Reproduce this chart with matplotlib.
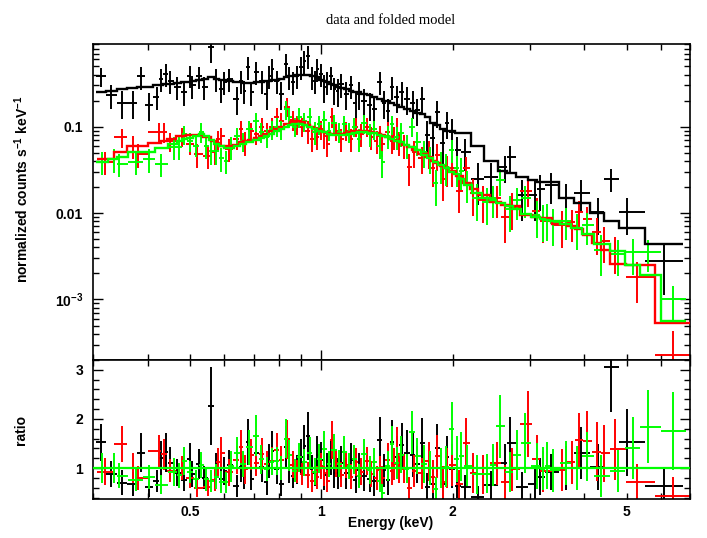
import numpy as np
import matplotlib
matplotlib.use("Agg")
import matplotlib.pyplot as plt
from matplotlib.ticker import FixedLocator, FixedFormatter, NullFormatter

# ---------------- data (energy keV, normalized counts, relative error, model) -------------
black_E = [0.313, 0.33, 0.35, 0.37, 0.387, 0.404, 0.42, 0.43, 0.44, 0.45, 0.468, 0.485, 0.5, 0.506,
           0.525, 0.54, 0.56, 0.575, 0.59, 0.6, 0.615, 0.64, 0.655, 0.666, 0.68, 0.69, 0.71, 0.73,
           0.75, 0.76, 0.77, 0.79, 0.81, 0.83, 0.845, 0.86, 0.88, 0.9, 0.915, 0.93, 0.95, 0.965,
           0.98, 1.0, 1.016, 1.03, 1.055, 1.07, 1.09, 1.11, 1.14, 1.17, 1.2, 1.22, 1.25, 1.29,
           1.32, 1.36, 1.39, 1.42, 1.45, 1.49, 1.53, 1.57, 1.62, 1.66, 1.7, 1.75, 1.8, 1.84, 1.9,
           1.94, 1.99, 2.05, 2.13, 2.28, 2.45, 2.63, 2.7, 2.88, 3.08, 3.16, 3.36, 3.64, 3.94, 4.3,
           4.6, 5.0, 6.1]
black_val = [0.38, 0.23, 0.19, 0.19, 0.38, 0.18, 0.22, 0.36, 0.41, 0.34, 0.29, 0.25, 0.39, 0.30,
             0.38, 0.29, 0.84, 0.36, 0.27, 0.33, 0.36, 0.21, 0.34, 0.26, 0.49, 0.25, 0.43, 0.34,
             0.24, 0.39, 0.47, 0.34, 0.24, 0.53, 0.38, 0.33, 0.39, 0.49, 0.58, 0.66, 0.38, 0.34,
             0.47, 0.41, 0.29, 0.33, 0.38, 0.27, 0.26, 0.31, 0.24, 0.30, 0.19, 0.24, 0.20, 0.18,
             0.16, 0.33, 0.19, 0.15, 0.29, 0.22, 0.25, 0.21, 0.19, 0.156, 0.21, 0.08, 0.074, 0.148,
             0.065, 0.11, 0.087, 0.054, 0.051, 0.025, 0.026, 0.034, 0.044, 0.016, 0.016, 0.019,
             0.021, 0.015, 0.017, 0.0102, 0.025, 0.0102, 0.0028]
black_rel = [0.25, 0.3, 0.35, 0.35, 0.3, 0.35, 0.3, 0.3, 0.3, 0.3, 0.3, 0.3, 0.28, 0.3,
             0.28, 0.3, 0.35, 0.3, 0.3, 0.3, 0.3, 0.35, 0.3, 0.3, 0.3, 0.3, 0.3, 0.3,
             0.35, 0.3, 0.3, 0.3, 0.35, 0.3, 0.3, 0.3, 0.3, 0.3, 0.3, 0.3, 0.3, 0.3,
             0.3, 0.3, 0.35, 0.3, 0.3, 0.35, 0.35, 0.3, 0.35, 0.3, 0.35, 0.35, 0.35, 0.35,
             0.4, 0.3, 0.35, 0.4, 0.3, 0.35, 0.3, 0.35, 0.35, 0.35, 0.35, 0.45, 0.45, 0.35,
             0.45, 0.35, 0.4, 0.4, 0.4, 0.5, 0.45, 0.35, 0.35, 0.5, 0.5, 0.45,
             0.4, 0.45, 0.4, 0.45, 0.3, 0.45, 0.6]
black_model = [0.25, 0.26, 0.27, 0.28, 0.29, 0.29, 0.30, 0.30, 0.31, 0.31, 0.32, 0.33, 0.33, 0.34,
               0.35, 0.36, 0.37, 0.36, 0.35, 0.35, 0.34, 0.33, 0.33, 0.32, 0.32, 0.32, 0.33, 0.33,
               0.34, 0.34, 0.35, 0.35, 0.36, 0.37, 0.38, 0.39, 0.40, 0.40, 0.40, 0.40, 0.39, 0.38,
               0.37, 0.35, 0.34, 0.33, 0.31, 0.30, 0.29, 0.28, 0.27, 0.26, 0.25, 0.25, 0.24, 0.23,
               0.22, 0.21, 0.20, 0.20, 0.19, 0.18, 0.17, 0.16, 0.15, 0.145, 0.14, 0.13, 0.11, 0.105,
               0.095, 0.09, 0.088, 0.085, 0.084, 0.06, 0.04, 0.031, 0.029, 0.026, 0.024, 0.023,
               0.023, 0.015, 0.013, 0.010, 0.0082, 0.0067, 0.0044]

red_E = [0.32, 0.35, 0.37, 0.38, 0.425, 0.436, 0.45, 0.48, 0.5, 0.52, 0.55, 0.57, 0.58, 0.59,
         0.615, 0.64, 0.655, 0.67, 0.69, 0.71, 0.73, 0.75, 0.77, 0.79, 0.81, 0.836, 0.86, 0.88,
         0.905, 0.93, 0.95, 0.975, 1.0, 1.016, 1.03, 1.06, 1.08, 1.11, 1.14, 1.17, 1.2, 1.23,
         1.27, 1.3, 1.34, 1.36, 1.38, 1.42, 1.45, 1.47, 1.49, 1.51, 1.55, 1.59, 1.63, 1.7, 1.76,
         1.8, 1.84, 1.9, 1.94, 1.99, 2.07, 2.15, 2.22, 2.34, 2.52, 2.63, 2.74, 2.97, 3.11, 3.21,
         3.55, 3.74, 3.9, 4.05, 4.27, 4.45, 4.7, 5.27, 6.4]
red_val = [0.039, 0.076, 0.060, 0.048, 0.087, 0.087, 0.068, 0.078, 0.063, 0.048, 0.046, 0.051,
           0.072, 0.078, 0.055, 0.072, 0.094, 0.066, 0.089, 0.082, 0.10, 0.089, 0.10, 0.13, 0.116,
           0.17, 0.12, 0.107, 0.10, 0.09, 0.072, 0.076, 0.094, 0.078, 0.063, 0.13, 0.09, 0.072,
           0.09, 0.072, 0.10, 0.082, 0.10, 0.076, 0.068, 0.078, 0.063, 0.087, 0.068, 0.076, 0.10,
           0.066, 0.061, 0.034, 0.051, 0.043, 0.050, 0.033, 0.047, 0.025, 0.033, 0.033, 0.018,
           0.033, 0.017, 0.014, 0.0148, 0.0089, 0.0117, 0.018, 0.0107, 0.0082, 0.0072, 0.0078,
           0.0102, 0.0085, 0.006, 0.0048, 0.0036, 0.0018, 0.00023]
red_rel = [0.3, 0.25, 0.3, 0.3, 0.25, 0.25, 0.25, 0.25, 0.25, 0.3, 0.3, 0.3, 0.25, 0.25,
           0.3, 0.25, 0.25, 0.3, 0.25, 0.25, 0.25, 0.25, 0.25, 0.25, 0.25, 0.25, 0.25, 0.25,
           0.25, 0.3, 0.3, 0.3, 0.25, 0.3, 0.3, 0.25, 0.25, 0.3, 0.25, 0.3, 0.25, 0.3,
           0.25, 0.3, 0.3, 0.3, 0.3, 0.3, 0.3, 0.3, 0.25, 0.3, 0.3, 0.4, 0.35, 0.35, 0.35,
           0.4, 0.35, 0.45, 0.4, 0.4, 0.45, 0.35, 0.45, 0.45, 0.4, 0.5, 0.45, 0.35, 0.4, 0.45,
           0.45, 0.4, 0.35, 0.4, 0.45, 0.45, 0.45, 0.5, 0.9]
red_model = [0.042, 0.051, 0.06, 0.06, 0.065, 0.068, 0.072, 0.078, 0.08, 0.08, 0.075, 0.068,
             0.064, 0.06, 0.06, 0.062, 0.066, 0.068, 0.07, 0.074, 0.078, 0.082, 0.088, 0.095,
             0.10, 0.107, 0.112, 0.115, 0.113, 0.105, 0.098, 0.094, 0.09, 0.087, 0.085, 0.083,
             0.082, 0.083, 0.085, 0.087, 0.089, 0.089, 0.088, 0.087, 0.085, 0.082, 0.079, 0.075,
             0.072, 0.07, 0.068, 0.066, 0.062, 0.058, 0.054, 0.048, 0.044, 0.04, 0.038, 0.035,
             0.033, 0.031, 0.027, 0.022, 0.019, 0.016, 0.0135, 0.0125, 0.012, 0.0095, 0.009,
             0.0088, 0.0075, 0.007, 0.0065, 0.0055, 0.0045, 0.0037, 0.0026, 0.0025, 0.00054]

green_E = [0.315, 0.335, 0.345, 0.377, 0.404, 0.43, 0.46, 0.473, 0.485, 0.5, 0.517, 0.53, 0.545,
           0.56, 0.575, 0.59, 0.605, 0.62, 0.64, 0.66, 0.684, 0.71, 0.728, 0.75, 0.77, 0.79, 0.81,
           0.83, 0.845, 0.87, 0.89, 0.915, 0.94, 0.965, 0.99, 1.016, 1.04, 1.07, 1.1, 1.13, 1.16,
           1.19, 1.22, 1.25, 1.29, 1.32, 1.36, 1.38, 1.42, 1.45, 1.49, 1.52, 1.57, 1.61, 1.66,
           1.72, 1.77, 1.83, 1.88, 1.93, 1.99, 2.04, 2.09, 2.16, 2.27, 2.39, 2.47, 2.56, 2.7, 2.8,
           2.92, 3.11, 3.21, 3.28, 3.39, 3.64, 3.84, 4.05, 4.38, 4.77, 5.16, 5.6, 6.4]
green_val = [0.039, 0.042, 0.037, 0.039, 0.042, 0.037, 0.058, 0.058, 0.082, 0.068, 0.06, 0.087,
             0.06, 0.052, 0.052, 0.043, 0.040, 0.058, 0.078, 0.068, 0.094, 0.116, 0.087, 0.076,
             0.094, 0.10, 0.094, 0.16, 0.13, 0.10, 0.13, 0.116, 0.13, 0.087, 0.107, 0.12, 0.09,
             0.11, 0.087, 0.107, 0.087, 0.10, 0.072, 0.11, 0.082, 0.094, 0.06, 0.039, 0.078,
             0.107, 0.076, 0.084, 0.061, 0.10, 0.066, 0.051, 0.043, 0.022, 0.036, 0.034, 0.054,
             0.033, 0.031, 0.022, 0.0148, 0.0133, 0.0148, 0.024, 0.011, 0.014, 0.0148, 0.0094,
             0.0085, 0.0087, 0.0076, 0.0082, 0.0068, 0.0072, 0.0037, 0.0034, 0.0035, 0.0035, 0.0010]
green_rel = [0.3, 0.3, 0.3, 0.3, 0.3, 0.3, 0.3, 0.3, 0.25, 0.25, 0.25, 0.25, 0.3,
             0.3, 0.3, 0.3, 0.3, 0.3, 0.25, 0.25, 0.25, 0.25, 0.25, 0.25, 0.25, 0.25, 0.25,
             0.25, 0.25, 0.25, 0.25, 0.25, 0.25, 0.3, 0.25, 0.25, 0.25, 0.25, 0.25, 0.25, 0.25,
             0.25, 0.3, 0.25, 0.3, 0.25, 0.3, 0.35, 0.3, 0.25, 0.3, 0.3, 0.3, 0.25, 0.3,
             0.35, 0.35, 0.45, 0.4, 0.4, 0.3, 0.4, 0.4, 0.4, 0.45, 0.45, 0.4, 0.35, 0.45, 0.4,
             0.4, 0.45, 0.45, 0.45, 0.45, 0.4, 0.45, 0.4, 0.5, 0.45, 0.45, 0.4, 0.45]
green_model = [0.039, 0.042, 0.044, 0.051, 0.051, 0.056, 0.063, 0.068, 0.072, 0.074, 0.078, 0.082,
               0.078, 0.07, 0.063, 0.06, 0.056, 0.056, 0.06, 0.063, 0.066, 0.07, 0.074, 0.078,
               0.083, 0.088, 0.094, 0.10, 0.103, 0.106, 0.107, 0.104, 0.099, 0.094, 0.09, 0.086,
               0.083, 0.081, 0.08, 0.081, 0.083, 0.085, 0.086, 0.086, 0.085, 0.084, 0.081, 0.078,
               0.075, 0.072, 0.069, 0.066, 0.062, 0.058, 0.053, 0.047, 0.043, 0.039, 0.036, 0.033,
               0.03, 0.028, 0.025, 0.021, 0.017, 0.015, 0.014, 0.013, 0.012, 0.011, 0.0098, 0.009,
               0.0086, 0.0083, 0.008, 0.0074, 0.0068, 0.0058, 0.0044, 0.0036, 0.0025, 0.0019, 0.00057]

colors = ["#000000", "#ff0000", "#00ff00"]
xlabels = ["0.5", "1", "2", "5"]

plt.rcParams["mathtext.fontset"] = "custom"
plt.rcParams["mathtext.rm"] = "Liberation Sans:bold"
plt.rcParams["mathtext.bf"] = "Liberation Sans:bold"
plt.rcParams["mathtext.default"] = "rm"

# ---------------- figure ----------------
fig = plt.figure(figsize=(7.07, 5.38), dpi=100)
ax1 = fig.add_axes([0.1315, 0.331, 0.845, 0.587])
ax2 = fig.add_axes([0.1315, 0.0725, 0.845, 0.2585], sharex=ax1)


def bin_edges(E):
    E = np.asarray(E, float)
    mids = np.sqrt(E[1:] * E[:-1])
    lo = np.concatenate([[E[0] ** 2 / mids[0]], mids])
    hi = np.concatenate([mids, [E[-1] ** 2 / mids[-1]]])
    return lo, hi


sets = [(black_E, black_val, black_rel, black_model),
        (red_E, red_val, red_rel, red_model),
        (green_E, green_val, green_rel, green_model)]

for (E, v, rel, m), c in zip(sets, colors):
    E = np.asarray(E); v = np.asarray(v); rel = np.asarray(rel); m = np.asarray(m)
    lo, hi = bin_edges(E)
    xerr = np.vstack([E - lo, hi - E])
    ax1.errorbar(E, v, xerr=xerr, yerr=rel * v, fmt="none", ecolor=c, elinewidth=1.4,
                 capsize=0, zorder=2)
    edges = np.concatenate([lo, [hi[-1]]])
    ax1.stairs(m, edges, baseline=None, color=c, lw=1.7, zorder=3)
    r = v / m
    ax2.errorbar(E, r, xerr=xerr, yerr=rel * r, fmt="none", ecolor=c, elinewidth=1.4,
                 capsize=0, zorder=2)

ax2.axhline(1.0, color="#00ff00", lw=1.6, zorder=4)

# ---------------- axes styling ----------------
ax1.set_xscale("log")
ax1.set_yscale("log")
ax1.set_xlim(0.3, 7.0)
ax1.set_ylim(2e-4, 0.9)
ax2.set_ylim(0.37, 3.2)

tick_font = dict(family="Liberation Sans", weight="bold", size=10)

for ax in (ax1, ax2):
    for sp in ax.spines.values():
        sp.set_linewidth(1.2)
    ax.tick_params(which="both", direction="in", top=True, right=True, width=1.0)
    ax.tick_params(which="major", length=7)
    ax.tick_params(which="minor", length=4)
    ax.xaxis.set_major_locator(FixedLocator([1.0]))
    ax.xaxis.set_minor_locator(FixedLocator([0.3, 0.4, 0.5, 0.6, 0.7, 0.8, 0.9, 2, 3, 4, 5, 6, 7]))
    ax.xaxis.set_major_formatter(NullFormatter())
    ax.xaxis.set_minor_formatter(NullFormatter())

ax2.xaxis.set_major_formatter(FixedFormatter(["1"]))
ax2.xaxis.set_minor_formatter(FixedFormatter(["", "", "0.5", "", "", "", "", "2", "", "", "5", "", ""]))
ax2.tick_params(axis="x", which="both", pad=4)
for lab in ax2.get_xticklabels(which="both"):
    lab.set(**tick_font)

ax1.yaxis.set_major_locator(FixedLocator([1e-3, 1e-2, 1e-1]))
ax1.yaxis.set_major_formatter(FixedFormatter([r"10$^{-3}$", "0.01", "0.1"]))
minor = [k * 10.0 ** d for d in (-4, -3, -2, -1) for k in range(2, 10)]
ax1.yaxis.set_minor_locator(FixedLocator(minor))
ax1.yaxis.set_minor_formatter(NullFormatter())
ax1.tick_params(axis="y", which="both", pad=7)
for lab in ax1.get_yticklabels():
    lab.set(**tick_font)

ax2.yaxis.set_major_locator(FixedLocator([1, 2, 3]))
ax2.yaxis.set_major_formatter(FixedFormatter(["1", "2", "3"]))
ax2.yaxis.set_minor_locator(FixedLocator([0.4, 0.6, 0.8, 1.2, 1.4, 1.6, 1.8, 2.2, 2.4, 2.6, 2.8, 3.2]))
ax2.tick_params(axis="y", which="both", pad=7)
for lab in ax2.get_yticklabels():
    lab.set(**tick_font)

fig.text(0.553, 0.961, "data and folded model", ha="center", va="center",
         family="Liberation Serif", size=10.5)
fig.text(0.031, 0.648, r"normalized counts s$^{-1}$ keV$^{-1}$", rotation=90,
         ha="center", va="center", family="Liberation Sans", weight="bold", size=10)
fig.text(0.029, 0.2, "ratio", rotation=90, ha="center", va="center",
         family="Liberation Sans", weight="bold", size=10)
fig.text(0.553, 0.028, "Energy (keV)", ha="center", va="center",
         family="Liberation Sans", weight="bold", size=10)

fig.savefig("out.png", dpi=100)
